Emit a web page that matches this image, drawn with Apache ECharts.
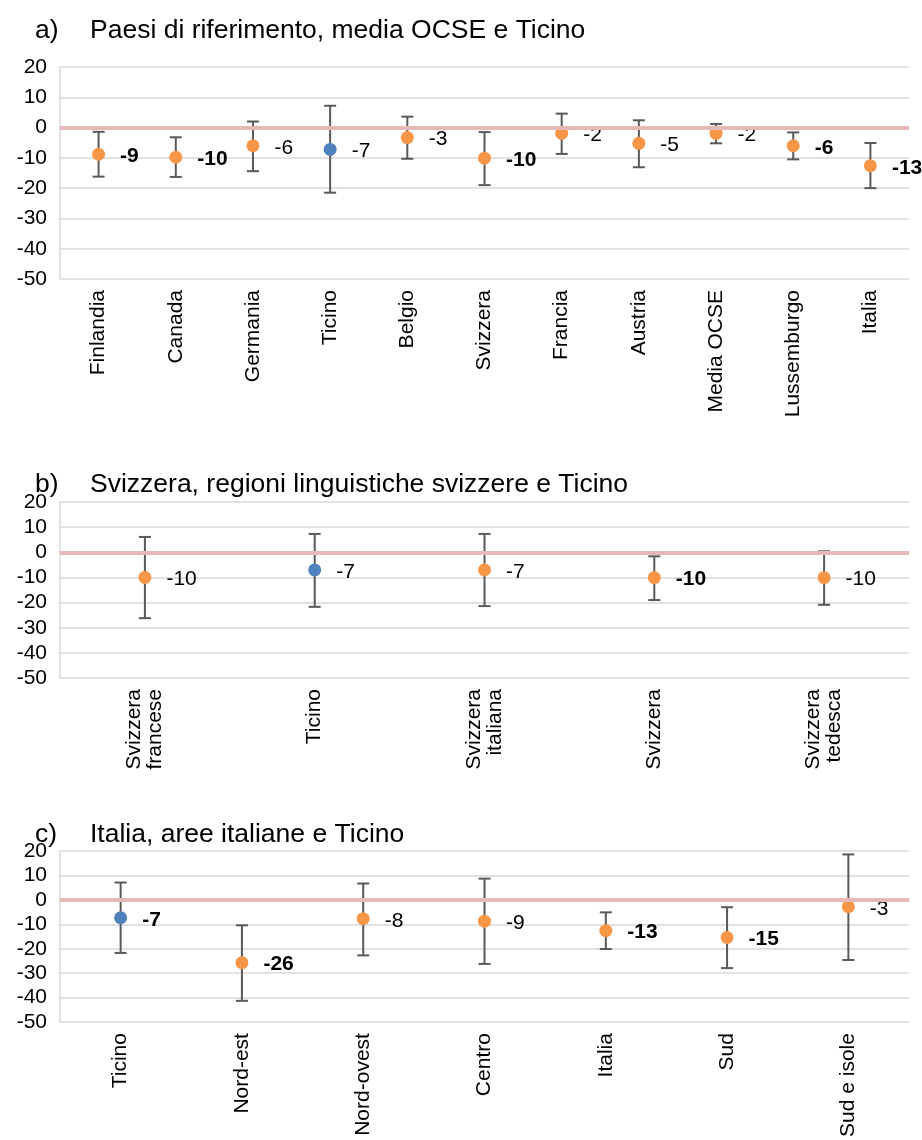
<!DOCTYPE html>
<html>
<head>
<meta charset="utf-8">
<title>Differenze con intervalli di confidenza</title>
<script src="https://cdn.jsdelivr.net/npm/echarts@6/dist/echarts.min.js"></script>
<style>
  html, body { margin: 0; padding: 0; background: #fff; }
  #chart { width: 922px; height: 1140px; }
</style>
</head>
<body>
<div id="chart"></div>
<script>
// a) Paesi di riferimento, media OCSE e Ticino
const aCategories = ['Finlandia', 'Canada', 'Germania', 'Ticino', 'Belgio', 'Svizzera', 'Francia', 'Austria', 'Media OCSE', 'Lussemburgo', 'Italia']
const aValues = [-8.8, -9.8, -6.0, -7.2, -3.3, -10.1, -1.9, -5.2, -1.9, -6.0, -12.6]
const aLow = [-16.2, -16.3, -14.4, -21.5, -10.3, -19.0, -8.7, -13.1, -5.2, -10.5, -20.0]
const aHigh = [-1.4, -3.2, 2.0, 7.2, 3.6, -1.5, 4.6, 2.4, 1.2, -1.6, -5.1]
const aSig = [1, 1, 0, 0, 0, 1, 0, 0, 0, 1, 1]

// b) Svizzera, regioni linguistiche svizzere e Ticino
const bCategories = ['Svizzera\nfrancese', 'Ticino', 'Svizzera\nitaliana', 'Svizzera', 'Svizzera\ntedesca']
const bValues = [-10.0, -7.0, -7.0, -10.1, -10.1]
const bLow = [-26.2, -21.7, -21.4, -19.0, -20.9]
const bHigh = [6.1, 7.3, 7.3, -1.6, 0.4]
const bSig = [0, 0, 0, 1, 0]

// c) Italia, aree italiane e Ticino
const cCategories = ['Ticino', 'Nord-est', 'Nord-ovest', 'Centro', 'Italia', 'Sud', 'Sud e isole']
const cValues = [-7.3, -25.7, -7.7, -8.7, -12.6, -15.4, -2.8]
const cLow = [-21.7, -41.3, -22.7, -26.2, -20.1, -27.9, -24.6]
const cHigh = [7.1, -10.4, 6.7, 8.7, -5.1, -3.0, 18.6]
const cSig = [1, 1, 0, 0, 1, 1, 0]

const yTicks = { min: -50, max: 20, interval: 10 }

const FONT = 'Liberation Sans, Arial, sans-serif'
const ORANGE = '#F79646'
const BLUE = '#4F81BD'
const GRID_COLOR = '#D9D9D9'

const panels = [
  { letter: 'a)', title: 'Paesi di riferimento, media OCSE e Ticino', titleTop: 17, top: 67, height: 212,
    cats: aCategories, vals: aValues, low: aLow, high: aHigh, sig: aSig },
  { letter: 'b)', title: 'Svizzera, regioni linguistiche svizzere e Ticino', titleTop: 471, top: 502, height: 176,
    cats: bCategories, vals: bValues, low: bLow, high: bHigh, sig: bSig },
  { letter: 'c)', title: 'Italia, aree italiane e Ticino', titleTop: 821, top: 851, height: 173,
    cats: cCategories, vals: cValues, low: cLow, high: cHigh, sig: cSig }
]

const renderErrorBar = (params, api) => {
  const lo = api.coord([api.value(0), api.value(1)])
  const hi = api.coord([api.value(0), api.value(2)])
  const style = { stroke: '#595959', lineWidth: 2 }
  const cap = 6
  return {
    type: 'group',
    children: [
      { type: 'line', shape: { x1: lo[0], y1: lo[1], x2: hi[0], y2: hi[1] }, style },
      { type: 'line', shape: { x1: lo[0] - cap, y1: lo[1], x2: lo[0] + cap, y2: lo[1] }, style },
      { type: 'line', shape: { x1: hi[0] - cap, y1: hi[1], x2: hi[0] + cap, y2: hi[1] }, style }
    ]
  }
}

const titles = []
const grids = []
const xAxes = []
const yAxes = []
const series = []

panels.forEach((p, i) => {
  const titleStyle = { fontFamily: FONT, fontSize: 26.5, fontWeight: 'normal', color: '#000' }
  titles.push({ text: p.letter, left: 35, top: p.titleTop, padding: 0, textStyle: titleStyle })
  titles.push({ text: p.title, left: 90, top: p.titleTop, padding: 0, textStyle: titleStyle })

  grids.push({ left: 60, right: 13, top: p.top, height: p.height })

  xAxes.push({
    type: 'category',
    gridIndex: i,
    data: p.cats,
    boundaryGap: true,
    axisTick: { show: false },
    axisLine: { lineStyle: { color: GRID_COLOR, width: 1.5 } },
    axisLabel: { interval: 0, rotate: 90, margin: 11, fontFamily: FONT, fontSize: 21, color: '#000', lineHeight: 21 }
  })

  yAxes.push({
    type: 'value',
    gridIndex: i,
    min: yTicks.min,
    max: yTicks.max,
    interval: yTicks.interval,
    axisLine: { show: true, lineStyle: { color: GRID_COLOR, width: 1.5 } },
    axisTick: { show: false },
    splitLine: { lineStyle: { color: GRID_COLOR, width: 1.5 } },
    axisLabel: { margin: 13, fontFamily: FONT, fontSize: 21, color: '#000' }
  })

  // zero reference line
  series.push({
    type: 'line',
    xAxisIndex: i,
    yAxisIndex: i,
    data: [],
    z: 1,
    silent: true,
    markLine: {
      silent: true,
      symbol: 'none',
      label: { show: false },
      lineStyle: { color: '#E6B9B8', width: 4, type: 'solid' },
      data: [{ yAxis: 0 }]
    }
  })

  series.push({
    type: 'custom',
    xAxisIndex: i,
    yAxisIndex: i,
    z: 2,
    renderItem: renderErrorBar,
    encode: { x: 0, y: [1, 2] },
    data: p.cats.map((c, k) => [k, p.low[k], p.high[k]])
  })

  series.push({
    type: 'scatter',
    xAxisIndex: i,
    yAxisIndex: i,
    z: 3,
    symbolSize: 13,
    itemStyle: { opacity: 1 },
    data: p.vals.map((v, k) => ({
      value: [k, v],
      itemStyle: { color: p.cats[k] === 'Ticino' ? BLUE : ORANGE, opacity: 1 },
      label: { fontWeight: p.sig[k] ? 'bold' : 'normal' }
    })),
    label: {
      show: true,
      position: 'right',
      distance: 15,
      offset: [0, 2],
      fontFamily: FONT,
      fontSize: 21,
      color: '#000',
      opacity: 1,
      formatter: (d) => String(Math.round(d.value[1]))
    }
  })
})

const chart = echarts.init(document.getElementById('chart'), null, { renderer: 'canvas' })
chart.setOption({
  backgroundColor: '#fff',
  animation: false,
  title: titles,
  grid: grids,
  xAxis: xAxes,
  yAxis: yAxes,
  series: series
})
</script>
</body>
</html>
